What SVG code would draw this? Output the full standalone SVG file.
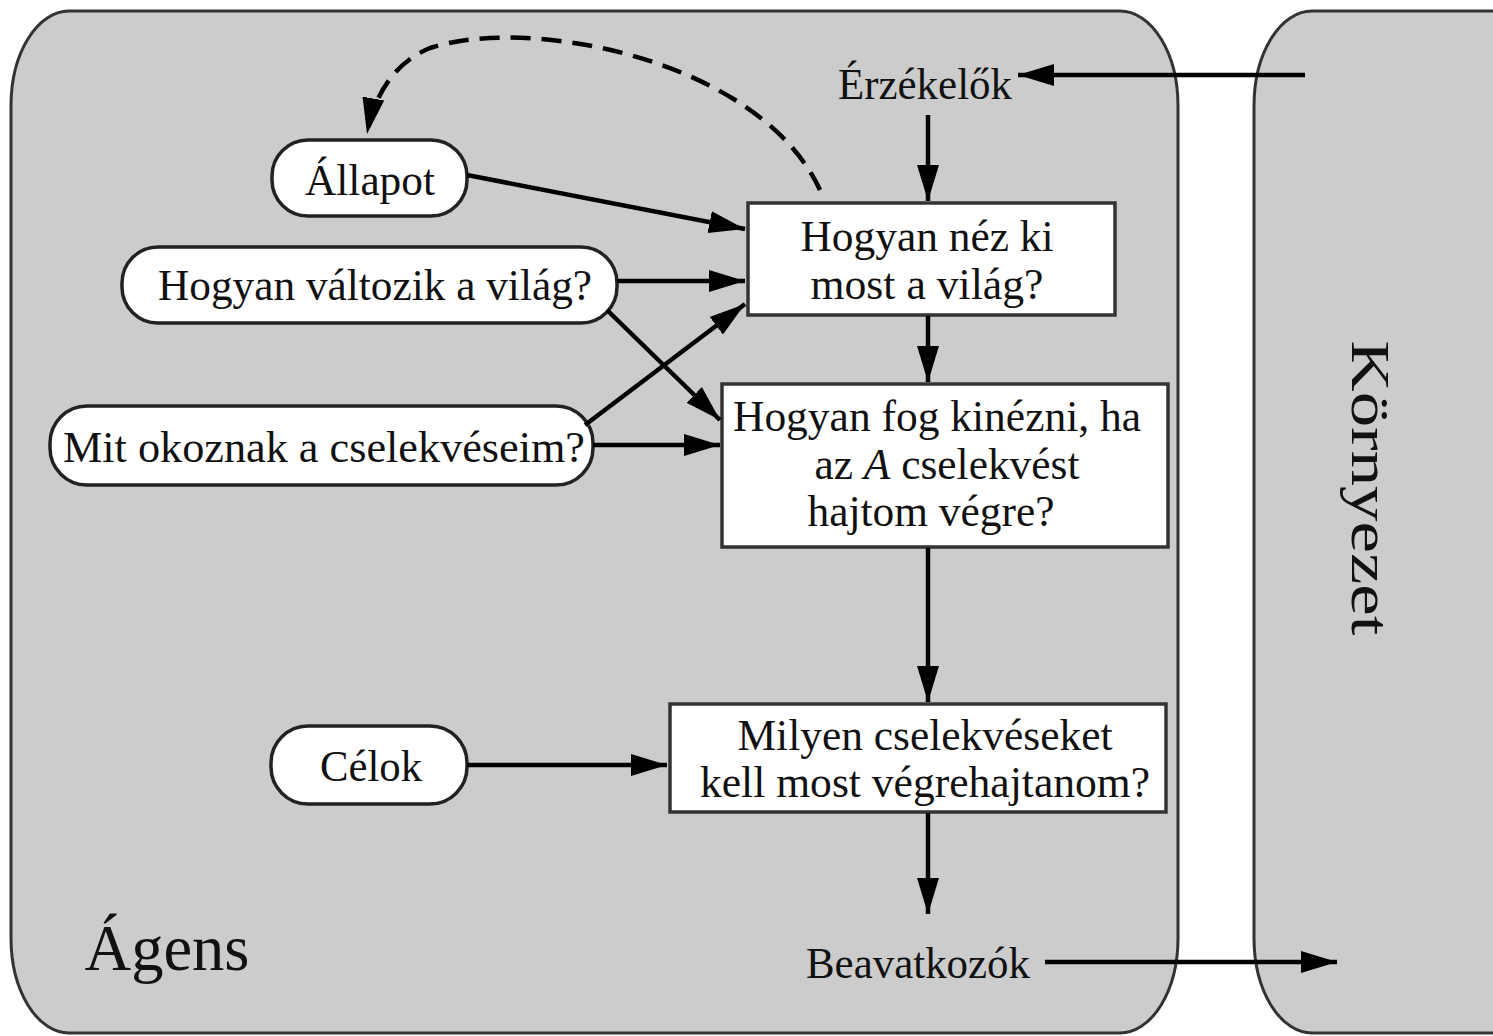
<svg xmlns="http://www.w3.org/2000/svg" width="1493" height="1036" viewBox="0 0 1493 1036">
<defs>
<marker id="ah" markerUnits="userSpaceOnUse" markerWidth="38" markerHeight="26" refX="36" refY="13" orient="auto">
<path d="M0,2 L36,13 L0,24 Z" fill="#000"/>
</marker>
<style>
.t{font-family:"Liberation Serif","Times New Roman",serif;font-size:45px;fill:#111;text-anchor:middle}
.pill{fill:#fff;stroke:#222;stroke-width:3.5}
.box{fill:#fff;stroke:#333;stroke-width:3.5}
.c{fill:none;stroke:#000;stroke-width:4.5;marker-end:url(#ah)}
.outer{fill:#cccccc;stroke:#333;stroke-width:3}
</style>
</defs>
<rect width="1493" height="1036" fill="#fff"/>
<g id="agent">
<rect class="outer" x="11" y="11" width="1167" height="1022" rx="58" ry="95"/>
<text class="t" x="167" y="970" style="font-size:66px" textLength="165" lengthAdjust="spacingAndGlyphs">Ágens</text>
</g>
<g id="environment">
<rect class="outer" x="1254" y="11" width="300" height="1022" rx="58" ry="95"/>
<text class="t" transform="translate(1352,488) rotate(90)" style="font-size:54px" textLength="295" lengthAdjust="spacingAndGlyphs">Környezet</text>
</g>
<g id="sensors">
<text class="t" x="925" y="99" textLength="174" lengthAdjust="spacingAndGlyphs">Érzékelők</text>
</g>
<g id="state">
<rect class="pill" x="272" y="140" width="195" height="76" rx="36"/>
<text class="t" x="370" y="195" textLength="130" lengthAdjust="spacingAndGlyphs">Állapot</text>
</g>
<g id="world-evolves">
<rect class="pill" x="122" y="247" width="495" height="76" rx="36"/>
<text class="t" x="375" y="300" textLength="434" lengthAdjust="spacingAndGlyphs">Hogyan változik a világ?</text>
</g>
<g id="actions-do">
<rect class="pill" x="50" y="406" width="543" height="79" rx="37"/>
<text class="t" x="324" y="462" textLength="522" lengthAdjust="spacingAndGlyphs">Mit okoznak a cselekvéseim?</text>
</g>
<g id="goals">
<rect class="pill" x="271" y="726" width="196" height="78" rx="37"/>
<text class="t" x="371" y="781" textLength="102" lengthAdjust="spacingAndGlyphs">Célok</text>
</g>
<g id="world-now">
<rect class="box" x="748" y="203" width="367" height="112"/>
<text class="t" x="927" y="251" textLength="253" lengthAdjust="spacingAndGlyphs">Hogyan néz ki</text>
<text class="t" x="927" y="299" textLength="233" lengthAdjust="spacingAndGlyphs">most a világ?</text>
</g>
<g id="world-if">
<rect class="box" x="722" y="384" width="446" height="163"/>
<text class="t" x="937" y="431" textLength="408" lengthAdjust="spacingAndGlyphs">Hogyan fog kinézni, ha</text>
<text class="t" x="947" y="479" textLength="265" lengthAdjust="spacingAndGlyphs">az <tspan font-style="italic">A</tspan> cselekvést</text>
<text class="t" x="931" y="526" textLength="247" lengthAdjust="spacingAndGlyphs">hajtom végre?</text>
</g>
<g id="action-choice">
<rect class="box" x="670" y="704" width="496" height="108"/>
<text class="t" x="925" y="750" textLength="375" lengthAdjust="spacingAndGlyphs">Milyen cselekvéseket</text>
<text class="t" x="925" y="797" textLength="450" lengthAdjust="spacingAndGlyphs">kell most végrehajtanom?</text>
</g>
<g id="actuators">
<text class="t" x="918" y="978" textLength="224" lengthAdjust="spacingAndGlyphs">Beavatkozók</text>
</g>
<g id="connectors">
<path class="c" d="M1305,75 L1018,75"/>
<path class="c" d="M928,115 L928,201"/>
<path class="c" d="M928,316 L928,382"/>
<path class="c" d="M928,548 L928,702"/>
<path class="c" d="M928,813 L928,914"/>
<path class="c" d="M1045,962 L1337,962"/>
<path class="c" d="M467,175 L745,229"/>
<path class="c" d="M617,281 L745,281"/>
<path class="c" d="M607,310 L720,420"/>
<path class="c" d="M585,425 L745,304"/>
<path class="c" d="M593,445 L720,445"/>
<path class="c" d="M467,765 L667,765"/>
<path class="c" d="M820,190 C760,60 530,15 430,48 C395,62 374,95 367,134" stroke-dasharray="20,11"/>
</g>
</svg>
